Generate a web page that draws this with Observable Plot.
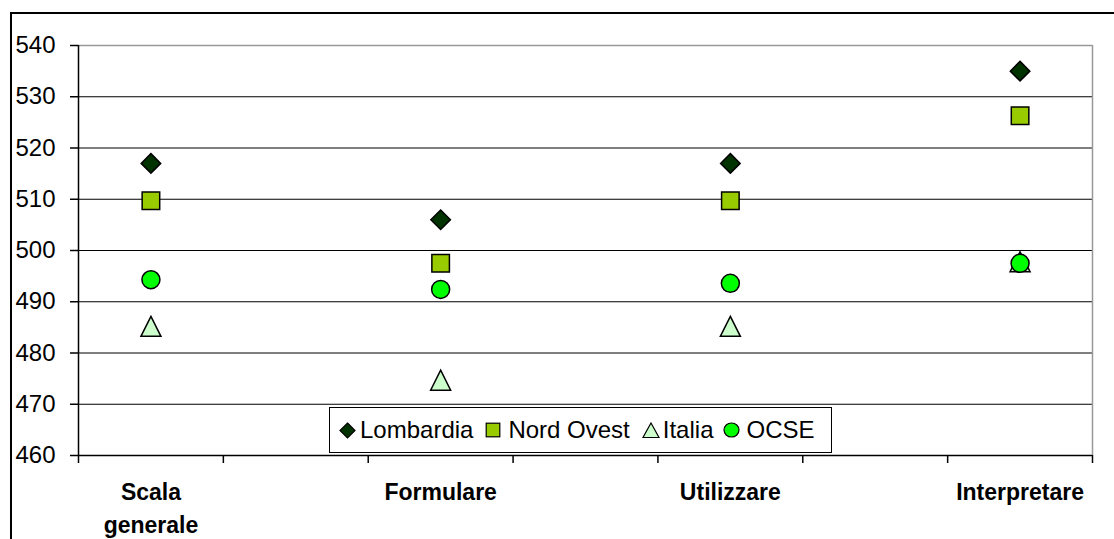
<!DOCTYPE html>
<html>
<head>
<meta charset="utf-8">
<script src="https://cdn.jsdelivr.net/npm/d3@7"></script>
<script src="https://cdn.jsdelivr.net/npm/@observablehq/plot@0.6"></script>
<style>
  html, body { margin: 0; padding: 0; background: #fff; }
  #wrap { position: relative; width: 1114px; height: 539px; overflow: hidden; font-family: "Liberation Sans", Arial, sans-serif; }
  #frame { position: absolute; left: 10px; top: 12px; width: 1200px; height: 700px; border-left: 2px solid #000; border-top: 2px solid #000; box-sizing: border-box; }
  #chart { position: absolute; left: 0; top: 0; }
  #legend { position: absolute; left: 329px; top: 407px; width: 503px; height: 46px; box-sizing: border-box; border: 1.5px solid #000; background: #fff; display: flex; align-items: center; padding-left: 9px; font-size: 24px; color: #000; white-space: nowrap; }
  #legend .item { display: flex; align-items: center; }
  #legend svg { margin-right: 4px; }
</style>
</head>
<body>
<div id="wrap">
  <div id="frame"></div>
  <div id="chart"></div>
  <div id="legend"></div>
</div>
<script>
const categories = ["Scala\ngenerale", "Formulare", "Utilizzare", "Interpretare"];
const seriesNames = ["Lombardia", "Nord Ovest", "Italia", "OCSE"];
const lombardia = [517, 506, 517, 535];
const nordOvest = [509.7, 497.5, 509.7, 526.3];
const italia = [485.2, 474.7, 485.2, 497.8];
const ocse = [494.3, 492.4, 493.6, 497.5];
const yTicks = [460, 470, 480, 490, 500, 510, 520, 530, 540];

// the categories occupy every other slot of a 7-slot category axis
const idx = categories.map((_, i) => i);
const slot = i => 2 * i + 0.5;
const triangleSym = {
  draw(ctx, size) {
    const s = Math.sqrt(size / Math.PI);
    ctx.moveTo(0, -s);
    ctx.lineTo(s, s);
    ctx.lineTo(-s, s);
    ctx.closePath();
  }
};

const chart = Plot.plot({
  width: 1114,
  height: 539,
  marginLeft: 78,
  marginRight: 22,
  marginTop: 45,
  marginBottom: 84,
  style: { fontFamily: "'Liberation Sans', Arial, sans-serif", color: "#000", background: "transparent", overflow: "visible" },
  x: { type: "linear", domain: [0, 7], axis: null },
  y: { domain: [460, 540], axis: null },
  marks: [
    Plot.ruleY(yTicks.filter(d => d > 460 && d < 540), { stroke: "#000", strokeWidth: 1.2 }),
    Plot.ruleY([540], { stroke: "#999", strokeWidth: 1.5 }),
    Plot.ruleX([7], { stroke: "#999", strokeWidth: 1.5 }),
    Plot.axisY({ ticks: yTicks, tickSize: 8, tickPadding: 15, fontSize: 24, strokeWidth: 1.5 }),
    Plot.axisX({ ticks: d3.range(0, 8), tickSize: 8, tickFormat: () => "", strokeWidth: 1.5 }),
    Plot.axisX({ ticks: idx.map(slot), tickSize: 0, tickPadding: 21, fontSize: 23, fontWeight: "bold", lineHeight: 1.43,
      tickFormat: v => categories[Math.round((v - 0.5) / 2)] }),
    Plot.ruleX([0], { stroke: "#000", strokeWidth: 1.5 }),
    Plot.ruleY([460], { stroke: "#000", strokeWidth: 1.5 }),
    Plot.dot(idx, { x: slot, y: i => lombardia[i], symbol: "diamond2", r: 8.8, fill: "#003300", stroke: "#000", strokeWidth: 1.5 }),
    Plot.dot(idx, { x: slot, y: i => nordOvest[i], symbol: "square", r: 9.9, fill: "#99cc00", stroke: "#000", strokeWidth: 1.5 }),
    Plot.dot(idx, { x: slot, y: i => italia[i], symbol: triangleSym, r: 10, fill: "#ccffcc", stroke: "#000", strokeWidth: 1.5 }),
    Plot.dot(idx, { x: slot, y: i => ocse[i], r: 9, fill: "#00ff00", stroke: "#000", strokeWidth: 1.5 })
  ]
});
document.getElementById("chart").appendChild(chart);

// Legend
const legendSymbols = [
  '<svg width="17" height="17" viewBox="-8.5 -8.5 17 17"><path d="M0,-7.5L7.5,0L0,7.5L-7.5,0Z" fill="#003300" stroke="#000" stroke-width="1.2"/></svg>',
  '<svg width="16" height="16" viewBox="-8 -8 16 16"><rect x="-6.8" y="-6.8" width="13.6" height="13.6" fill="#99cc00" stroke="#000" stroke-width="1.2"/></svg>',
  '<svg width="18" height="17" viewBox="-9 -8.5 18 17"><path d="M0,-7.5L8,7L-8,7Z" fill="#ccffcc" stroke="#000" stroke-width="1.2"/></svg>',
  '<svg width="17" height="16" viewBox="-8.5 -8 17 16"><ellipse cx="0" cy="0" rx="7.5" ry="7" fill="#00ff00" stroke="#000" stroke-width="1.2"/></svg>'
];
const gaps = [12, 12, 10, 0];
const symGap = [4, 7, 3, 6];
const legend = document.getElementById("legend");
seriesNames.forEach((name, i) => {
  const item = document.createElement("span");
  item.className = "item";
  item.style.marginRight = gaps[i] + "px";
  item.innerHTML = legendSymbols[i] + "<span>" + name + "</span>";
  item.querySelector("svg").style.marginRight = symGap[i] + "px";
  legend.appendChild(item);
});
</script>
</body>
</html>
